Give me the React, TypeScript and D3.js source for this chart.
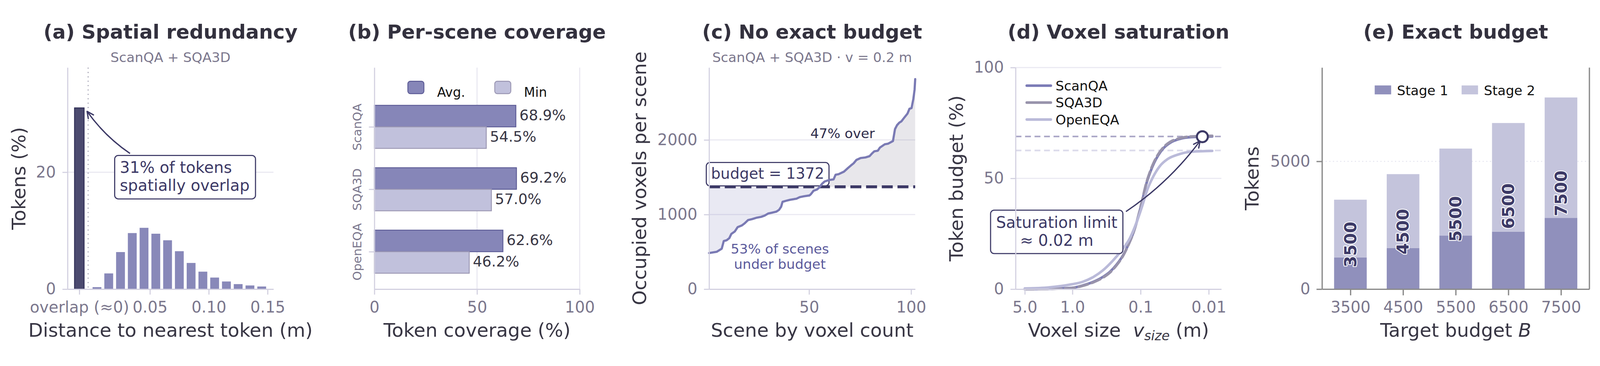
import React, { useEffect, useRef } from 'react';
import * as d3 from 'd3';

// ---------- (a) distance to nearest token ----------
const distBinCenters = [0.005, 0.015, 0.025, 0.035, 0.045, 0.055, 0.065, 0.075, 0.085, 0.095, 0.105, 0.115, 0.125, 0.135, 0.145];
const distBinPct = [0.34, 2.69, 6.34, 9.59, 10.49, 9.48, 8.36, 6.49, 4.48, 2.99, 1.98, 1.31, 0.86, 0.63, 0.45];
const overlapPos = -0.01;
const overlapPct = 31.0;
const overlapCut = -0.0025;
const distTicks = [-0.01, 0.05, 0.1, 0.15];
const distTickLabels = ['overlap (≈0)', '0.05', '0.10', '0.15'];

// ---------- (b) per-scene coverage ----------
const coverageSets = ['ScanQA', 'SQA3D', 'OpenEQA'];
const coverageAvg = [68.9, 69.2, 62.6];
const coverageMin = [54.5, 57.0, 46.2];

// ---------- (c) occupied voxels per scene (sorted) ----------
const sceneRank = [1, 4.8, 7.2, 8.2, 9.6, 10.9, 11.9, 13.6, 15.0, 17.0, 18.4, 20.1, 22.1, 24.5, 26.5, 28.2, 29.9, 31.9, 33.9, 35.3,
  36.3, 37.0, 38.7, 40.7, 43.8, 45.4, 47.5, 50.2, 50.9, 52.2, 53.9, 54.9, 56.3, 57.6, 60.0, 62.0, 63.0, 64.4, 67.1, 69.1,
  70.5, 71.8, 73.2, 75.2, 77.6, 79.6, 81.0, 82.0, 83.7, 84.7, 87.1, 88.7, 91.1, 92.1, 93.1, 94.2, 95.2, 96.5, 98.2, 99.2,
  100.2, 101.1, 101.7, 102];
const sceneVoxels = [484, 501, 542, 645, 655, 683, 740, 773, 831, 853, 881, 926, 939, 959, 969, 985, 1013, 1025, 1038, 1063,
  1104, 1170, 1184, 1198, 1212, 1233, 1245, 1256, 1273, 1319, 1336, 1360, 1410, 1443, 1464, 1471, 1534, 1540, 1575, 1625,
  1658, 1686, 1732, 1757, 1765, 1782, 1823, 1848, 1856, 1897, 1942, 1950, 1985, 2145, 2198, 2231, 2248, 2294, 2352, 2418,
  2426, 2550, 2674, 2815];
const voxelBudget = 1372;

// ---------- (d) voxel saturation ----------
const scanqaSize = [5.0, 2.2, 1.02, 0.708, 0.492, 0.357, 0.284, 0.226, 0.18, 0.15, 0.125, 0.109, 0.0952, 0.083, 0.0724, 0.0631, 0.0551, 0.0459, 0.0366, 0.0266, 0.0184, 0.0089];
const scanqaPct = [0, 0.15, 0.55, 1.65, 3.3, 5.5, 7.7, 11.0, 15.4, 20.3, 26.3, 32.4, 39.5, 47.2, 52.7, 57.1, 60.4, 63.7, 66.1, 67.8, 68.6, 68.9];
const sqa3dSize = [5.0, 2.2, 1.02, 0.708, 0.492, 0.357, 0.284, 0.226, 0.18, 0.15, 0.125, 0.109, 0.0952, 0.083, 0.0724, 0.0631, 0.0551, 0.0459, 0.0366, 0.0266, 0.0184, 0.0089];
const sqa3dPct = [0, 0.12, 0.5, 1.5, 3.1, 5.2, 7.4, 10.7, 15.1, 20.1, 26.2, 32.6, 39.9, 47.6, 53.2, 57.6, 60.9, 64.1, 66.5, 68.1, 68.9, 69.2];
const openeqaSize = [5.0, 2.21, 1.02, 0.708, 0.492, 0.357, 0.26, 0.189, 0.1436, 0.1143, 0.0952, 0.0794, 0.066, 0.0526, 0.0401, 0.0291, 0.0184, 0.0089];
const openeqaPct = [0.3, 0.8, 2.2, 3.3, 5.5, 8.5, 12.6, 17.6, 23.0, 30.2, 37.3, 45.0, 50.5, 55.4, 58.7, 60.6, 62.0, 62.4];
const satLevels = [68.9, 62.6];
const satPoint = [0.0124, 68.8];
const voxTicks = [5, 1, 0.1, 0.01];
const voxTickLabels = ['5.0', '1.0', '0.1', '0.01'];

// ---------- (e) exact budget ----------
const targetBudgets = [3500, 4500, 5500, 6500, 7500];
const stage1Tokens = [1240, 1610, 2100, 2250, 2790];
const stage2Tokens = [2260, 2890, 3400, 4250, 4710];

const W = 4382;
const H = 938;
const FONT = "'DejaVu Sans', sans-serif";
const TITLE_C = '#33313e';
const LABEL_C = '#383644';
const TICK_C = '#7b778d';
const SPINE_C = '#d2d0e0';
const GRID_C = '#e9e8f1';
const NAVY = '#3c3966';
const LEGEND_C = '#111111';
const AX_TOP = 152.5;
const AX_BOT = 760;
const plain = d3.format('d');

const addText = (g: any, x: number, y: number, s: string, size: number, fill: string, anchor = 'start', weight = 'normal') =>
  g.append('text')
    .attr('x', x).attr('y', y)
    .attr('font-family', FONT).attr('font-size', size)
    .attr('fill', fill).attr('text-anchor', anchor).attr('font-weight', weight)
    .text(s);

const title = (g: any, cx: number, s: string) => addText(g, cx, 73, s, 54, TITLE_C, 'middle', 'bold');

const xLabel = (g: any, cx: number, s: string) => addText(g, cx, 891, s, 52, LABEL_C, 'middle');

const yLabel = (g: any, x: number, s: string) =>
  g.append('text')
    .attr('transform', `translate(${x},${(AX_TOP + AX_BOT) / 2}) rotate(-90)`)
    .attr('text-anchor', 'middle')
    .attr('font-family', FONT).attr('font-size', 52).attr('fill', LABEL_C)
    .text(s);

const hGrid = (g: any, xr: number[], ys: number[], color = GRID_C, dash: string | null = null) =>
  ys.forEach((yy) => {
    g.append('line')
      .attr('x1', xr[0]).attr('x2', xr[1]).attr('y1', yy).attr('y2', yy)
      .attr('stroke', color).attr('stroke-width', 3).attr('stroke-dasharray', dash);
  });

const styleAxis = (ax: any, color: string, width = 3) => {
  ax.attr('font-family', FONT).attr('font-size', 43);
  ax.select('.domain').attr('stroke', color).attr('stroke-width', width);
  ax.selectAll('.tick line').attr('stroke', color).attr('stroke-width', width);
  ax.selectAll('.tick text').attr('fill', TICK_C);
};

// rounded box behind everything already in the group
const boxAround = (note: any, pad: number[]) => {
  const b = note.node().getBBox();
  note.insert('rect', ':first-child')
    .attr('x', b.x - pad[0]).attr('y', b.y - pad[2])
    .attr('width', b.width + pad[0] + pad[1]).attr('height', b.height + pad[2] + pad[3])
    .attr('rx', 10).attr('fill', '#fff').attr('stroke', NAVY).attr('stroke-width', 3);
};

const curvedArrow = (g: any, p0: number[], p1: number[], rad: number) => {
  const mx = (p0[0] + p1[0]) / 2;
  const my = (p0[1] + p1[1]) / 2;
  const dx = p1[0] - p0[0];
  const dy = p1[1] - p0[1];
  const c = [mx - rad * dy, my + rad * dx];
  g.append('path')
    .attr('d', `M${p0[0]},${p0[1]}Q${c[0]},${c[1]} ${p1[0]},${p1[1]}`)
    .attr('fill', 'none').attr('stroke', NAVY).attr('stroke-width', 3.5);
  const ang = Math.atan2(p1[1] - c[1], p1[0] - c[0]);
  const head = [ang + Math.PI - 0.45, ang + Math.PI + 0.45].map((a) => [p1[0] + 20 * Math.cos(a), p1[1] + 20 * Math.sin(a)]);
  g.append('path')
    .attr('d', `M${head[0][0]},${head[0][1]}L${p1[0]},${p1[1]}L${head[1][0]},${head[1][1]}`)
    .attr('fill', 'none').attr('stroke', NAVY).attr('stroke-width', 3.5)
    .attr('stroke-linejoin', 'round').attr('stroke-linecap', 'round');
};

function drawRedundancy(g: any) {
  const x = d3.scaleLinear().domain([-0.02, 0.155]).range([185, 749]);
  const y = d3.scaleLinear().domain([0, 37.9]).range([AX_BOT, AX_TOP]);
  const cx = (x.range()[0] + x.range()[1]) / 2;

  title(g, cx, '(a) Spatial redundancy');
  addText(g, cx, 137.6, 'ScanQA + SQA3D', 37, TICK_C, 'middle');
  hGrid(g, x.range(), [y(20)]);

  const bw = x(0.0075) - x(0);
  g.selectAll('.hist').data(distBinCenters).join('rect')
    .attr('class', 'hist')
    .attr('x', (d: number) => x(d) - bw / 2).attr('width', bw)
    .attr('y', (_: number, i: number) => y(distBinPct[i]))
    .attr('height', (_: number, i: number) => y(0) - y(distBinPct[i]))
    .attr('fill', '#8888b9');

  const ow = x(0.0081) - x(0);
  g.append('rect')
    .attr('x', x(overlapPos) - ow / 2).attr('width', ow)
    .attr('y', y(overlapPct)).attr('height', y(0) - y(overlapPct))
    .attr('fill', '#4b4a6f').attr('stroke', '#2f2d55').attr('stroke-width', 2.5);

  g.append('line')
    .attr('x1', x(overlapCut)).attr('x2', x(overlapCut)).attr('y1', AX_TOP).attr('y2', AX_BOT)
    .attr('stroke', '#a9a8b8').attr('stroke-width', 3).attr('stroke-dasharray', '3 9');

  const bx = g.append('g').attr('transform', `translate(0,${AX_BOT})`)
    .call(d3.axisBottom(x).tickValues(distTicks).tickFormat((_: any, i: number) => distTickLabels[i]).tickSize(15).tickPadding(19).tickSizeOuter(0));
  styleAxis(bx, SPINE_C);
  const lx = g.append('g').attr('transform', `translate(${x.range()[0]},0)`)
    .call(d3.axisLeft(y).tickValues([0, 20]).tickSize(14).tickPadding(18).tickSizeOuter(0));
  styleAxis(lx, SPINE_C);

  const note = g.append('g');
  addText(note, x(0.0244), y(19.9), '31% of tokens', 43, NAVY);
  addText(note, x(0.0244), y(16.84), 'spatially overlap', 43, NAVY);
  boxAround(note, [14, 16, 8, 13]);
  curvedArrow(g, [x(0.0331), y(23.2)], [x(-0.0034), y(30.4)], -0.09);

  xLabel(g, cx, 'Distance to nearest token (m)');
  yLabel(g, 70, 'Tokens (%)');
}

function drawCoverage(g: any) {
  const x = d3.scaleLinear().domain([0, 100]).range([1025.3, 1587.6]);
  const y = d3.scaleLinear().domain([-0.95, 2.6]).range([AX_TOP, AX_BOT]);
  const cx = (x.range()[0] + x.range()[1]) / 2;
  const bh = 0.345;

  title(g, cx, '(b) Per-scene coverage');
  [50, 100].forEach((v) => {
    g.append('line').attr('x1', x(v)).attr('x2', x(v)).attr('y1', AX_TOP).attr('y2', AX_BOT)
      .attr('stroke', GRID_C).attr('stroke-width', 3);
  });

  const series = [
    { vals: coverageAvg, off: -bh, fill: '#8686b8', stroke: '#5d5c96' },
    { vals: coverageMin, off: 0, fill: '#c1c1dc', stroke: '#9b97b3' },
  ];
  series.forEach((s) => {
    g.selectAll(null).data(s.vals).join('rect')
      .attr('x', x(0)).attr('width', (d: number) => x(d) - x(0))
      .attr('y', (_: number, i: number) => y(i + s.off)).attr('height', y(bh) - y(0))
      .attr('fill', s.fill).attr('stroke', s.stroke).attr('stroke-width', 2.5);
    g.selectAll(null).data(s.vals).join('text')
      .attr('x', (d: number) => x(d) + 10)
      .attr('y', (_: number, i: number) => y(i + s.off + bh / 2) + 11)
      .attr('font-family', FONT).attr('font-size', 40).attr('fill', LABEL_C)
      .text((d: number) => `${d.toFixed(1)}%`);
  });

  // legend
  const leg = [
    { label: 'Avg.', px: 1117, tx: 1197, s: series[0] },
    { label: 'Min', px: 1355, tx: 1435, s: series[1] },
  ];
  leg.forEach((l) => {
    g.append('rect').attr('x', l.px).attr('y', 190).attr('width', 44).attr('height', 34).attr('rx', 7)
      .attr('fill', l.s.fill).attr('stroke', l.s.stroke).attr('stroke-width', 2.5);
    addText(g, l.tx, 233, l.label, 35.5, LEGEND_C);
  });

  const bx = g.append('g').attr('transform', `translate(0,${AX_BOT})`)
    .call(d3.axisBottom(x).tickValues([0, 50, 100]).tickSize(15).tickPadding(19).tickSizeOuter(0));
  styleAxis(bx, SPINE_C);
  const lx = g.append('g').attr('transform', `translate(${x(0)},0)`)
    .call(d3.axisLeft(y).tickValues([0, 1, 2]).tickFormat((_: any, i: number) => coverageSets[i]).tickSize(15).tickSizeOuter(0));
  styleAxis(lx, SPINE_C);
  lx.selectAll('.tick text')
    .attr('x', 0).attr('y', 0).attr('dy', null)
    .attr('text-anchor', 'middle').attr('font-size', 33)
    .attr('transform', `translate(${990 - x(0)},0) rotate(-90)`);

  xLabel(g, cx, 'Token coverage (%)');
}

function drawBudgetCurve(g: any) {
  const x = d3.scaleLinear().domain([1, 102]).range([1942, 2506.5]);
  const y = d3.scaleLinear().domain([0, 2970]).range([AX_BOT, AX_TOP]);
  const cx = (x.range()[0] + x.range()[1]) / 2;
  const yb = y(voxelBudget);

  title(g, cx, '(c) No exact budget');
  addText(g, cx, 137.6, 'ScanQA + SQA3D · v = 0.2 m', 37, TICK_C, 'middle');
  hGrid(g, x.range(), [y(1000), y(2000)]);

  const pts = sceneRank.map((r, i) => [r, sceneVoxels[i]]);
  const defs = g.append('defs');
  defs.append('clipPath').attr('id', 'c-under').append('rect')
    .attr('x', x.range()[0]).attr('width', x.range()[1] - x.range()[0]).attr('y', yb).attr('height', AX_BOT - yb);
  defs.append('clipPath').attr('id', 'c-over').append('rect')
    .attr('x', x.range()[0]).attr('width', x.range()[1] - x.range()[0]).attr('y', AX_TOP).attr('height', yb - AX_TOP);
  const area = d3.area<number[]>().x((d) => x(d[0])).y0(yb).y1((d) => y(d[1]));
  g.append('path').datum(pts).attr('d', area).attr('fill', '#6e6eb0').attr('fill-opacity', 0.15).attr('clip-path', 'url(#c-under)');
  g.append('path').datum(pts).attr('d', area).attr('fill', '#75728a').attr('fill-opacity', 0.17).attr('clip-path', 'url(#c-over)');

  const note = g.append('g');
  addText(note, x(29.7), y(1480), `budget = ${voxelBudget}`, 41, NAVY, 'middle');
  boxAround(note, [13, 13, 6, 10]);

  g.append('line')
    .attr('x1', x.range()[0]).attr('x2', x.range()[1]).attr('y1', yb).attr('y2', yb)
    .attr('stroke', NAVY).attr('stroke-width', 8).attr('stroke-dasharray', '30 13');

  const line = d3.line<number[]>().x((d) => x(d[0])).y((d) => y(d[1]));
  g.append('path').datum(pts).attr('d', line)
    .attr('fill', 'none').attr('stroke', '#7a7ab4').attr('stroke-width', 6)
    .attr('stroke-linejoin', 'round').attr('stroke-linecap', 'round');

  addText(g, x(66.4), y(2025), '47% over', 37, '#2e2c4c', 'middle');
  addText(g, x(35.7), y(475.7), '53% of scenes', 37, '#5b5a9c', 'middle');
  addText(g, x(35.7), y(273.8), 'under budget', 37, '#5b5a9c', 'middle');

  const bx = g.append('g').attr('transform', `translate(0,${AX_BOT})`)
    .call(d3.axisBottom(x).tickValues([50, 100]).tickFormat(plain).tickSize(15).tickPadding(19).tickSizeOuter(0));
  styleAxis(bx, SPINE_C);
  const lx = g.append('g').attr('transform', `translate(${x.range()[0]},0)`)
    .call(d3.axisLeft(y).tickValues([0, 1000, 2000]).tickFormat(plain).tickSize(14).tickPadding(18).tickSizeOuter(0));
  styleAxis(lx, SPINE_C);

  xLabel(g, cx, 'Scene by voxel count');
  yLabel(g, 1770, 'Occupied voxels per scene');
}

function drawSaturation(g: any) {
  const x = d3.scaleLog().domain([6.83, 0.00653]).range([2781.4, 3345]);
  const y = d3.scaleLinear().domain([0, 100]).range([AX_BOT, AX_TOP]);
  const cx = (x.range()[0] + x.range()[1]) / 2;

  title(g, cx, '(d) Voxel saturation');
  hGrid(g, x.range(), [y(50), y(100)]);
  const refColors = ['#aaa6c6', '#dcdbeb'];
  satLevels.forEach((v, i) => {
    g.append('line').attr('x1', x.range()[0]).attr('x2', x.range()[1]).attr('y1', y(v)).attr('y2', y(v))
      .attr('stroke', refColors[i]).attr('stroke-width', 4.5).attr('stroke-dasharray', '16 10');
  });

  const curves = [
    { name: 'ScanQA', sizes: scanqaSize, pct: scanqaPct, color: '#7b7bb6', dash: null },
    { name: 'SQA3D', sizes: sqa3dSize, pct: sqa3dPct, color: '#9893ab', dash: '26 11' },
    { name: 'OpenEQA', sizes: openeqaSize, pct: openeqaPct, color: '#babad9', dash: null },
  ];
  curves.forEach((c) => {
    const line = d3.line<number>().curve(d3.curveMonotoneX)
      .x((d) => x(d)).y((_, i) => y(c.pct[i]));
    g.append('path').datum(c.sizes).attr('d', line)
      .attr('fill', 'none').attr('stroke', c.color).attr('stroke-width', 7)
      .attr('stroke-linecap', 'round').attr('stroke-linejoin', 'round').attr('stroke-dasharray', c.dash);
  });

  // legend
  curves.forEach((c, i) => {
    const ly = 202 + i * 46.5;
    g.append('line').attr('x1', 2812).attr('x2', 2878).attr('y1', ly).attr('y2', ly)
      .attr('stroke', c.color).attr('stroke-width', 7).attr('stroke-linecap', 'round');
    addText(g, 2891, ly + 13, c.name, 36.5, LEGEND_C);
  });

  const note = g.append('g');
  addText(note, x(1.70), y(27.65), 'Saturation limit', 43, NAVY, 'middle');
  addText(note, x(1.70), y(19.6), '≈ 0.02 m', 43, NAVY, 'middle');
  boxAround(note, [15, 15, 9, 12]);
  curvedArrow(g, [x(0.164), y(35.0)], [x(0.0134), y(66.9)], 0.085);

  g.append('circle').attr('cx', x(satPoint[0])).attr('cy', y(satPoint[1])).attr('r', 15)
    .attr('fill', '#fff').attr('stroke', NAVY).attr('stroke-width', 5.5);

  const bx = g.append('g').attr('transform', `translate(0,${AX_BOT})`)
    .call(d3.axisBottom(x).tickValues(voxTicks).tickFormat((_: any, i: number) => voxTickLabels[i]).tickSize(15).tickPadding(19).tickSizeOuter(0));
  styleAxis(bx, SPINE_C);
  const lx = g.append('g').attr('transform', `translate(${x.range()[0]},0)`)
    .call(d3.axisLeft(y).tickValues([0, 50, 100]).tickSize(14).tickPadding(18).tickSizeOuter(0));
  styleAxis(lx, SPINE_C);

  const xl = xLabel(g, cx, '');
  xl.append('tspan').text('Voxel size\u00a0\u00a0');
  xl.append('tspan').attr('font-style', 'italic').text('v');
  xl.append('tspan').attr('font-style', 'italic').attr('font-size', 36).attr('dy', 9).text('size');
  xl.append('tspan').attr('dy', -9).text('\u00a0(m)');
  yLabel(g, 2637, 'Token budget (%)');
}

function drawExactBudget(g: any) {
  const x = d3.scaleLinear().domain([-0.54, 4.54]).range([3620.6, 4353]);
  const y = d3.scaleLinear().domain([0, 8670]).range([AX_BOT, AX_TOP]);
  const cx = (x.range()[0] + x.range()[1]) / 2;
  const bw = x(0.62) - x(0);
  const AX_C = '#8a8a8a';

  title(g, cx, '(e) Exact budget');
  hGrid(g, x.range(), [y(5000)], '#e6e6f0', '3 7');

  g.selectAll(null).data(stage1Tokens).join('rect')
    .attr('x', (_: number, i: number) => x(i) - bw / 2).attr('width', bw)
    .attr('y', (d: number) => y(d)).attr('height', (d: number) => y(0) - y(d))
    .attr('fill', '#9090bc');
  g.selectAll(null).data(stage2Tokens).join('rect')
    .attr('x', (_: number, i: number) => x(i) - bw / 2).attr('width', bw)
    .attr('y', (d: number, i: number) => y(stage1Tokens[i] + d)).attr('height', (d: number) => y(0) - y(d))
    .attr('fill', '#c4c4dc');

  g.selectAll(null).data(targetBudgets).join('text')
    .attr('transform', (d: number, i: number) => `translate(${x(i)},${y(d / 2)}) rotate(-90)`)
    .attr('text-anchor', 'middle').attr('dominant-baseline', 'central')
    .attr('font-family', FONT).attr('font-size', 45).attr('font-weight', 'bold')
    .attr('fill', NAVY).attr('stroke', '#fff').attr('stroke-width', 4.5)
    .attr('stroke-linejoin', 'round').attr('paint-order', 'stroke')
    .text((d: number) => `${d}`);

  const leg = [
    { label: 'Stage 1', px: 3765, tx: 3826, fill: '#9090bc' },
    { label: 'Stage 2', px: 4003, tx: 4064, fill: '#c4c4dc' },
  ];
  leg.forEach((l) => {
    g.append('rect').attr('x', l.px).attr('y', 201.5).attr('width', 45).attr('height', 24.5).attr('fill', l.fill);
    addText(g, l.tx, 228, l.label, 36.5, LEGEND_C);
  });

  const bx = g.append('g').attr('transform', `translate(0,${AX_BOT})`)
    .call(d3.axisBottom(x).tickValues([0, 1, 2, 3, 4]).tickFormat((_: any, i: number) => `${targetBudgets[i]}`).tickSize(17).tickPadding(17).tickSizeOuter(0));
  styleAxis(bx, AX_C, 3.5);
  const lx = g.append('g').attr('transform', `translate(${x.range()[0]},0)`)
    .call(d3.axisLeft(y).tickValues([0, 5000]).tickFormat(plain).tickSize(15).tickPadding(17).tickSizeOuter(0));
  styleAxis(lx, AX_C, 3.5);
  g.append('line').attr('x1', x.range()[1]).attr('x2', x.range()[1]).attr('y1', AX_TOP).attr('y2', AX_BOT)
    .attr('stroke', AX_C).attr('stroke-width', 3.5);

  const xl = xLabel(g, cx, '');
  xl.append('tspan').text('Target budget ');
  xl.append('tspan').attr('font-style', 'italic').text('B');
  yLabel(g, 3447, 'Tokens');
}

export default function App() {
  const svgRef = useRef<SVGSVGElement>(null);

  useEffect(() => {
    if (!svgRef.current) return;
    document.body.style.margin = '0';
    document.body.style.overflow = 'hidden';
    document.documentElement.style.overflow = 'hidden';
    const svg = d3.select(svgRef.current);
    svg.selectAll('*').remove();
    svg.append('rect').attr('width', W).attr('height', H).attr('fill', '#fff');

    drawRedundancy(svg.append('g'));
    drawCoverage(svg.append('g'));
    drawBudgetCurve(svg.append('g'));
    drawSaturation(svg.append('g'));
    drawExactBudget(svg.append('g'));
  }, []);

  // scale with the viewport so the whole figure is always in frame
  return (
    <svg
      ref={svgRef}
      viewBox={`0 0 ${W} ${H}`}
      preserveAspectRatio="xMidYMid meet"
      style={{ position: 'fixed', left: 0, top: 0, width: '100vw', height: '100vh', display: 'block', background: '#fff' }}
    />
  );
}
